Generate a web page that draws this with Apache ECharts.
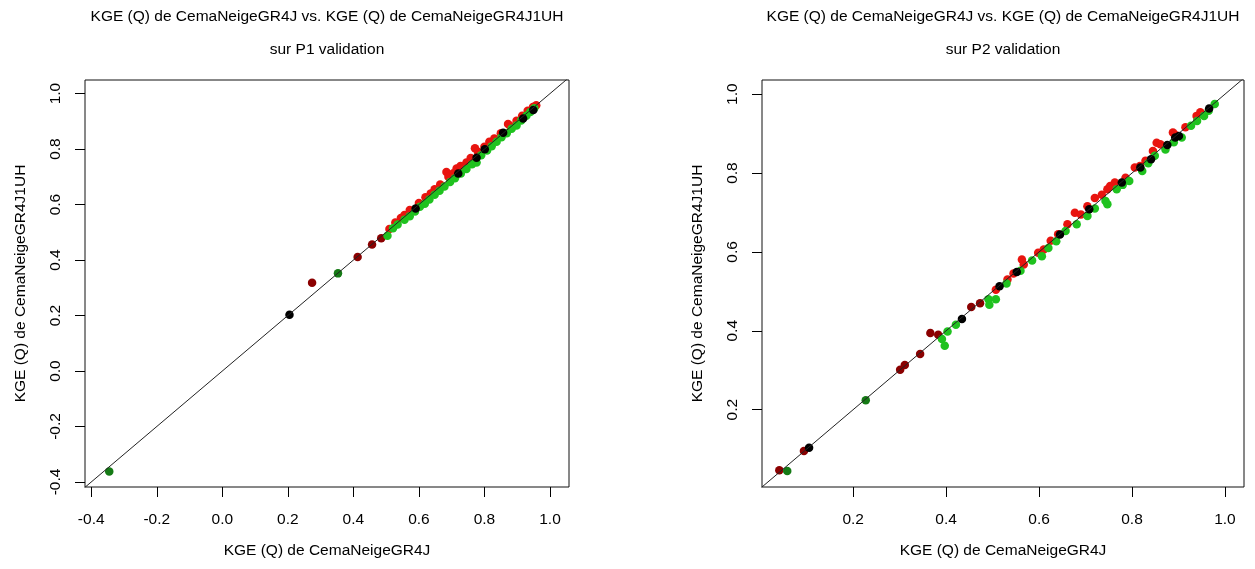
<!DOCTYPE html>
<html>
<head>
<meta charset="utf-8">
<title>KGE (Q) CemaNeigeGR4J vs CemaNeigeGR4J1UH</title>
<script src="https://cdn.jsdelivr.net/npm/echarts@6/dist/echarts.min.js"></script>
<style>
  html, body { margin: 0; padding: 0; background: #ffffff; }
  #chart { width: 1255px; height: 569px; }
</style>
</head>
<body>
<div id="chart"></div>
<script>
// Titles and axis names
const titleLine1 = 'KGE (Q) de CemaNeigeGR4J vs. KGE (Q) de CemaNeigeGR4J1UH';
const titleP1 = 'sur P1 validation';
const titleP2 = 'sur P2 validation';
const xName = 'KGE (Q) de CemaNeigeGR4J';
const yName = 'KGE (Q) de CemaNeigeGR4J1UH';

// Tick values
const ticksP1 = [-0.4, -0.2, 0.0, 0.2, 0.4, 0.6, 0.8, 1.0];
const ticksP2 = [0.2, 0.4, 0.6, 0.8, 1.0];

// P1 validation: [KGE CemaNeigeGR4J, KGE CemaNeigeGR4J1UH]
const p1DarkRed = [[0.274, 0.318], [0.413, 0.411], [0.457, 0.456], [0.485, 0.479]];
const p1DarkGreen = [[-0.345, -0.362], [0.353, 0.352]];
const p1Red = [
  [0.510, 0.512], [0.528, 0.535], [0.545, 0.552], [0.556, 0.562], [0.572, 0.580],
  [0.600, 0.606], [0.620, 0.626], [0.636, 0.640], [0.648, 0.655], [0.665, 0.672],
  [0.684, 0.717], [0.690, 0.700], [0.705, 0.713], [0.715, 0.730], [0.727, 0.739],
  [0.745, 0.752], [0.758, 0.768], [0.771, 0.803], [0.780, 0.790], [0.800, 0.808],
  [0.815, 0.826], [0.830, 0.838], [0.850, 0.857], [0.872, 0.890], [0.878, 0.884],
  [0.898, 0.902], [0.915, 0.920], [0.932, 0.938], [0.948, 0.952], [0.958, 0.958]
];
const p1Green = [
  [0.504, 0.488], [0.521, 0.515], [0.535, 0.528], [0.556, 0.545], [0.572, 0.558],
  [0.588, 0.575], [0.603, 0.592], [0.618, 0.603], [0.632, 0.618], [0.648, 0.635],
  [0.663, 0.650], [0.678, 0.665], [0.695, 0.681], [0.710, 0.695], [0.728, 0.712],
  [0.745, 0.728], [0.762, 0.745], [0.776, 0.752], [0.790, 0.778], [0.808, 0.795],
  [0.822, 0.810], [0.837, 0.826], [0.852, 0.843], [0.868, 0.857], [0.883, 0.873],
  [0.898, 0.885], [0.912, 0.903], [0.928, 0.920], [0.940, 0.934], [0.952, 0.947]
];
const p1Black = [
  [0.205, 0.203], [0.590, 0.586], [0.720, 0.712], [0.776, 0.769], [0.801, 0.799],
  [0.857, 0.859], [0.918, 0.910], [0.949, 0.941]
];

// P2 validation
const p2DarkRed = [
  [0.041, 0.046], [0.094, 0.095], [0.301, 0.301], [0.311, 0.313], [0.344, 0.341],
  [0.366, 0.394], [0.383, 0.390], [0.454, 0.460], [0.473, 0.470]
];
const p2DarkGreen = [[0.058, 0.044], [0.227, 0.224]];
const p2Red = [
  [0.507, 0.504], [0.532, 0.530], [0.545, 0.545], [0.563, 0.581], [0.567, 0.568],
  [0.598, 0.598], [0.610, 0.606], [0.625, 0.628], [0.641, 0.645], [0.661, 0.670],
  [0.677, 0.699], [0.690, 0.695], [0.704, 0.716], [0.720, 0.737], [0.735, 0.745],
  [0.747, 0.759], [0.753, 0.767], [0.763, 0.776], [0.786, 0.788], [0.806, 0.814],
  [0.817, 0.818], [0.829, 0.831], [0.845, 0.856], [0.853, 0.877], [0.861, 0.873],
  [0.888, 0.903], [0.892, 0.898], [0.915, 0.916], [0.939, 0.945], [0.947, 0.954],
  [0.950, 0.949]
];
const p2Green = [
  [0.391, 0.379], [0.397, 0.362], [0.403, 0.398], [0.421, 0.415], [0.491, 0.480],
  [0.493, 0.466], [0.507, 0.480], [0.530, 0.520], [0.560, 0.552], [0.585, 0.578],
  [0.606, 0.589], [0.620, 0.610], [0.637, 0.627], [0.657, 0.653], [0.681, 0.670],
  [0.704, 0.691], [0.720, 0.710], [0.743, 0.729], [0.747, 0.721], [0.767, 0.759],
  [0.780, 0.770], [0.794, 0.780], [0.822, 0.805], [0.835, 0.825], [0.849, 0.844],
  [0.872, 0.860], [0.890, 0.878], [0.907, 0.890], [0.927, 0.920], [0.940, 0.932],
  [0.955, 0.945], [0.965, 0.958], [0.978, 0.975]
];
const p2Black = [
  [0.105, 0.103], [0.434, 0.430], [0.515, 0.513], [0.552, 0.549], [0.645, 0.644],
  [0.708, 0.708], [0.778, 0.776], [0.818, 0.814], [0.841, 0.835], [0.876, 0.871],
  [0.893, 0.890], [0.901, 0.894], [0.966, 0.964]
];

// 1:1 reference line
const diagonal = [[-1, -1], [2, 2]];

const FONT = '"Liberation Sans", Arial, Helvetica, sans-serif';
const FS = 15.5;
const COLORS = {
  darkRed: '#8b0000',
  red: '#e8140f',
  darkGreen: '#157a15',
  green: '#1fc21f',
  black: '#000000'
};

const fmt = v => v.toFixed(1);

function xAxisFor(gridIndex, min, max, ticks) {
  return {
    gridIndex, type: 'value', min, max,
    name: xName, nameLocation: 'middle', nameGap: 56,
    nameTextStyle: { fontFamily: FONT, fontSize: FS, color: '#000' },
    axisLine: { show: false, onZero: false },
    splitLine: { show: false },
    axisTick: { show: true, length: 10, customValues: ticks, lineStyle: { color: '#000', width: 1 } },
    axisLabel: { customValues: ticks, formatter: fmt, margin: 25, fontFamily: FONT, fontSize: FS, color: '#000' }
  };
}
function yAxisFor(gridIndex, min, max, ticks) {
  return {
    gridIndex, type: 'value', min, max,
    name: yName, nameLocation: 'middle', nameGap: 56,
    nameTextStyle: { fontFamily: FONT, fontSize: FS, color: '#000' },
    axisLine: { show: false, onZero: false },
    splitLine: { show: false },
    axisTick: { show: true, length: 10, customValues: ticks, lineStyle: { color: '#000', width: 1 } },
    axisLabel: { customValues: ticks, formatter: fmt, rotate: 90, margin: 21, fontFamily: FONT, fontSize: FS, color: '#000' }
  };
}

function pts(data, color, idx, z) {
  return {
    type: 'scatter', xAxisIndex: idx, yAxisIndex: idx, data,
    symbol: 'circle', symbolSize: 8.5, z,
    itemStyle: { color, opacity: 1 },
    silent: true, animation: false
  };
}
function refLine(idx) {
  return {
    type: 'line', xAxisIndex: idx, yAxisIndex: idx, data: diagonal,
    showSymbol: false, symbol: 'none', clip: true, z: 10,
    lineStyle: { color: '#222', width: 1 },
    silent: true, animation: false
  };
}

const titleStyle = { fontFamily: FONT, fontSize: FS, fontWeight: 'normal', color: '#000' };

const option = {
  backgroundColor: '#ffffff',
  animation: false,
  title: [
    { text: titleLine1, left: 327, top: 9, textAlign: 'center', padding: 0, textStyle: titleStyle },
    { text: titleP1, left: 327, top: 42, textAlign: 'center', padding: 0, textStyle: titleStyle },
    { text: titleLine1, left: 1003, top: 9, textAlign: 'center', padding: 0, textStyle: titleStyle },
    { text: titleP2, left: 1003, top: 42, textAlign: 'center', padding: 0, textStyle: titleStyle }
  ],
  grid: [
    { left: 85, top: 80, width: 484, height: 407, show: true, borderColor: '#111', borderWidth: 1, backgroundColor: 'transparent' },
    { left: 762, top: 80, width: 482, height: 407, show: true, borderColor: '#111', borderWidth: 1, backgroundColor: 'transparent' }
  ],
  xAxis: [
    xAxisFor(0, -0.419, 1.058, ticksP1),
    xAxisFor(1, 0.0037, 1.041, ticksP2)
  ],
  yAxis: [
    yAxisFor(0, -0.418, 1.049, ticksP1),
    yAxisFor(1, 0.0037, 1.036, ticksP2)
  ],
  series: [
    pts(p1DarkRed, COLORS.darkRed, 0, 2),
    pts(p1Red, COLORS.red, 0, 2),
    pts(p1DarkGreen, COLORS.darkGreen, 0, 3),
    pts(p1Green, COLORS.green, 0, 3),
    pts(p1Black, COLORS.black, 0, 4),
    refLine(0),
    pts(p2DarkRed, COLORS.darkRed, 1, 2),
    pts(p2Red, COLORS.red, 1, 2),
    pts(p2DarkGreen, COLORS.darkGreen, 1, 3),
    pts(p2Green, COLORS.green, 1, 3),
    pts(p2Black, COLORS.black, 1, 4),
    refLine(1)
  ]
};

const chart = echarts.init(document.getElementById('chart'), null, { renderer: 'canvas' });
chart.setOption(option);
</script>
</body>
</html>
